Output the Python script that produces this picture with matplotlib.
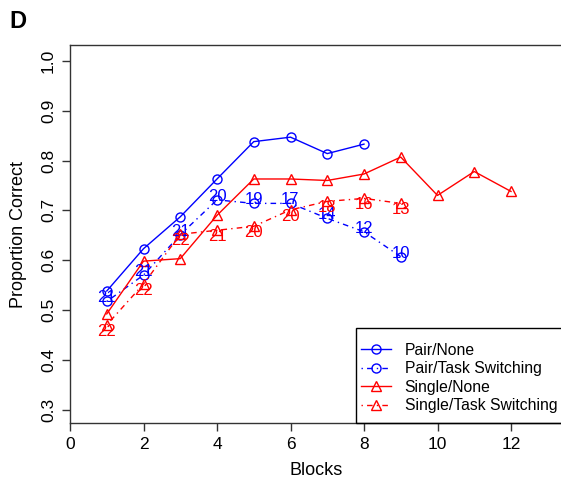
import matplotlib
matplotlib.use("Agg")
import matplotlib.pyplot as plt
from matplotlib.patches import Rectangle

plt.rcParams['font.family'] = ['Liberation Sans', 'DejaVu Sans']

# Data
blocks_pair_none = [1, 2, 3, 4, 5, 6, 7, 8]
pair_none = [0.538, 0.623, 0.687, 0.763, 0.838, 0.847, 0.814, 0.833]

blocks_pair_ts = [1, 2, 3, 4, 5, 6, 7, 8, 9]
pair_ts = [0.517, 0.570, 0.651, 0.721, 0.714, 0.714, 0.684, 0.657, 0.607]
pair_ts_n = [21, 21, 21, 20, 19, 17, 14, 12, 10]

blocks_single_none = [1, 2, 3, 4, 5, 6, 7, 8, 9, 10, 11, 12]
single_none = [0.492, 0.598, 0.603, 0.690, 0.763, 0.763, 0.760, 0.773, 0.807, 0.730, 0.778, 0.738]

blocks_single_ts = [1, 2, 3, 4, 5, 6, 7, 8, 9]
single_ts = [0.470, 0.552, 0.652, 0.660, 0.668, 0.701, 0.718, 0.724, 0.714]
single_ts_n = [22, 22, 22, 21, 20, 20, 18, 16, 13]

x_ticks = [0, 2, 4, 6, 8, 10, 12]
y_ticks = [0.3, 0.4, 0.5, 0.6, 0.7, 0.8, 0.9, 1.0]

BLUE = '#0000FF'
RED = '#FF0000'
dotdash = (0, (1, 3, 4, 3))

W, H = 561, 479
fig = plt.figure(figsize=(W / 100, H / 100), dpi=100)
ax = fig.add_axes([70 / W, (H - 423) / H, (W - 70 + 2) / W, (423 - 45) / H])

mk = dict(markerfacecolor='none', markeredgewidth=1.0, lw=1.0)
ax.plot(blocks_pair_none, pair_none, color=BLUE, marker='o', ms=6.5, ls='-', label='Pair/None', **mk)
ax.plot(blocks_pair_ts, pair_ts, color=BLUE, marker='o', ms=6.5, ls=dotdash, label='Pair/Task Switching', **mk)
ax.plot(blocks_single_none, single_none, color=RED, marker='^', ms=7, ls='-', label='Single/None', **mk)
ax.plot(blocks_single_ts, single_ts, color=RED, marker='^', ms=7, ls=dotdash, label='Single/Task Switching', **mk)

for x, y, n in zip(blocks_pair_ts, pair_ts, pair_ts_n):
    ax.annotate(str(n), (x, y), xytext=(0, 2.5), textcoords='offset points',
                ha='center', va='center', color=BLUE, fontsize=12)
for x, y, n in zip(blocks_single_ts, single_ts, single_ts_n):
    ax.annotate(str(n), (x, y), xytext=(0, -4.5), textcoords='offset points',
                ha='center', va='center', color=RED, fontsize=12)

ax.set_xlim(0, (W - 70 + 2) / 36.75)
ax.set_ylim(0.3 - (423 - 409.5) / 498.5, 1.0 + (61 - 45) / 498.5)
ax.set_xticks(x_ticks)
ax.set_yticks(y_ticks)
ax.set_xticklabels([str(t) for t in x_ticks])
ax.set_yticklabels([f'{t:.1f}' for t in y_ticks], rotation=90, va='center')
ax.tick_params(direction='out', length=6, width=1, labelsize=12.5, colors='#333333', labelcolor='black', pad=4)
for s in ax.spines.values():
    s.set_linewidth(1.0)
    s.set_color('#333333')
ax.spines['right'].set_visible(False)

ax.set_xlabel('Blocks', fontsize=13, labelpad=7.5)
ax.set_ylabel('Proportion Correct', fontsize=13, labelpad=10)

# legend frame (bottom-right inset)
x0 = (356 - 70) / (W - 68)
yh = (423 - 328) / (423 - 45)
ax.add_patch(Rectangle((x0, 0), 1.2, yh, transform=ax.transAxes, fill=False,
                       edgecolor='black', lw=1.0, clip_on=False, zorder=5))
leg = ax.legend(loc='upper left', bbox_to_anchor=(x0, yh - 0.027), frameon=False,
                fontsize=11.3, handlelength=1.95, handletextpad=0.85, labelspacing=0.22,
                borderaxespad=0, borderpad=0.3)

fig.text(18 / W, 1 - 22 / H, 'D', fontsize=17, fontweight='bold', ha='center', va='center')

fig.savefig('out.png', dpi=100)
